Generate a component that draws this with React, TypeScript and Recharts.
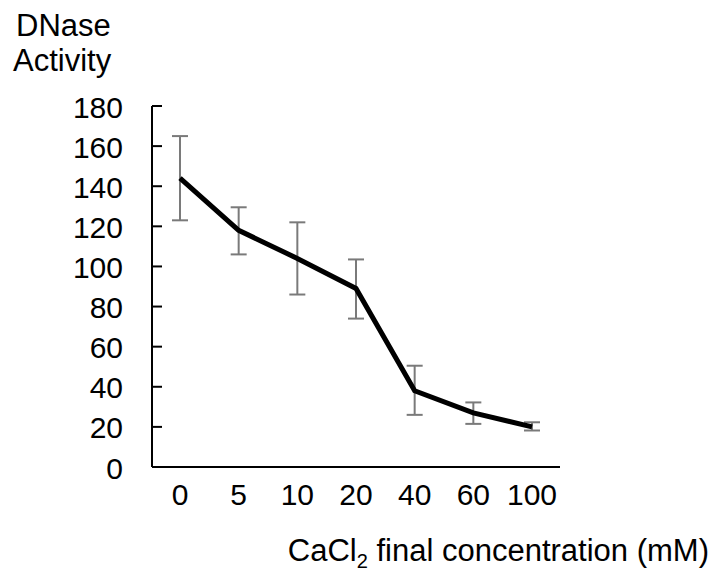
import { ErrorBar, Line, LineChart, XAxis, YAxis } from "recharts";

const concentrations = ["0", "5", "10", "20", "40", "60", "100"];
const activity = [144, 118, 104, 89, 38, 27, 20];
const errLow = [123, 106, 86, 74, 26, 21.5, 18.2];
const errHigh = [165, 129.5, 122, 103.5, 50.5, 32.2, 22.3];
const yTicks = [0, 20, 40, 60, 80, 100, 120, 140, 160, 180];

const FONT = "'Liberation Sans', Arial, sans-serif";

const data = concentrations.map((c, i) => ({
  conc: c,
  activity: activity[i],
  err: [activity[i] - errLow[i], errHigh[i] - activity[i]],
}));

function YTick(props: any) {
  const { x, y, payload } = props;
  return (
    <g>
      <line x1={x} x2={x + 10} y1={y} y2={y} stroke="#000" strokeWidth={2} />
      <text x={x - 29} y={y + 11.5} textAnchor="end" fontSize={30} fill="#000" fontFamily={FONT}>
        {payload.value}
      </text>
    </g>
  );
}

function YTitle() {
  return (
    <text fontSize={31} fill="#000" fontFamily={FONT}>
      <tspan x={16} y={36}>DNase</tspan>
      <tspan x={13} y={71}>Activity</tspan>
    </text>
  );
}

function XTitle() {
  return (
    <text x={709} y={561} textAnchor="end" fontSize={31} fill="#000" fontFamily={FONT}>
      CaCl
      <tspan dy={7} fontSize={20}>2</tspan>
      <tspan dy={-7}> final concentration (mM)</tspan>
    </text>
  );
}

export default function App() {
  return (
    <div style={{ position: "absolute", left: 0, top: 0, width: 715, height: 576, background: "#fff" }}>
      <LineChart
        width={715}
        height={576}
        data={data}
        margin={{ top: 106, right: 155, left: 92, bottom: 79 }}
      >
        <XAxis
          dataKey="conc"
          type="category"
          padding={{ left: 28, right: 28 }}
          axisLine={{ stroke: "#000", strokeWidth: 2 }}
          tickLine={false}
          tickSize={0}
          tickMargin={17}
          height={30}
          interval={0}
          tick={{ fontSize: 30, fill: "#000", fontFamily: FONT }}
          label={{ content: () => <XTitle /> }}
        />
        <YAxis
          domain={[0, 180]}
          ticks={yTicks}
          width={60}
          axisLine={{ stroke: "#000", strokeWidth: 2 }}
          tickLine={false}
          tickSize={0}
          tickMargin={0}
          interval={0}
          tick={<YTick />}
          label={{ content: () => <YTitle /> }}
        />
        <Line
          dataKey="activity"
          type="linear"
          stroke="#000"
          strokeWidth={5}
          dot={false}
          isAnimationActive={false}
        >
          <ErrorBar dataKey="err" width={8} stroke="#7a7a7a" strokeWidth={2} direction="y" />
        </Line>
      </LineChart>
    </div>
  );
}
